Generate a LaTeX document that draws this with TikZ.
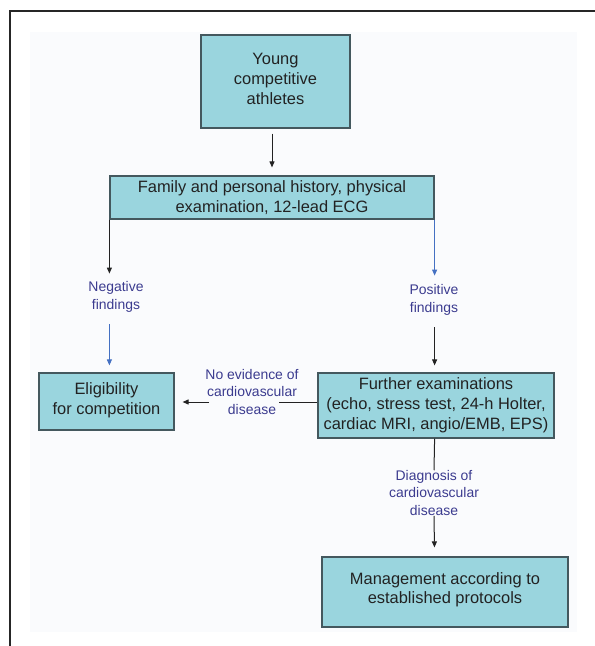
\documentclass[tikz,border=0pt]{standalone}
\usepackage{fontspec}
\setmainfont{Liberation Sans}
\usetikzlibrary{arrows.meta}
\definecolor{boxfill}{HTML}{9AD5DE}
\definecolor{boxline}{HTML}{44585E}
\definecolor{lbl}{HTML}{3B3B8F}
\definecolor{bluearr}{HTML}{4470C2}
\definecolor{panel}{HTML}{FAFBFD}
\definecolor{txt}{HTML}{222222}
\begin{document}
\begin{tikzpicture}[x=1bp,y=-1bp,
  box/.style={draw=boxline, line width=1.2bp, fill=boxfill, text=txt, align=center,
    font=\fontsize{16.5}{20}\selectfont, inner sep=0pt},
  lab/.style={text=lbl, align=center, font=\fontsize{14}{17.5}\selectfont, inner sep=0pt},
  conn/.style={draw=txt, line width=1bp},
  bconn/.style={draw=bluearr, line width=1bp},
  tip/.style={-{Triangle[length=6bp,width=5bp]}},
]
\useasboundingbox (0,0) rectangle (595,646);
\fill[panel] (30,32) rectangle (577,632);
\draw[line width=2bp, black!85] (10,646) -- (10,11) -- (595,11);

\node[box, minimum width=149bp, minimum height=93bp] (young) at (275.5,81.5)
  {Young\\competitive\\athletes\rule[-6bp]{0pt}{0pt}};
\node[box, minimum width=324bp, minimum height=43bp] (hist) at (272,197.5)
  {Family and personal history, physical\\examination, 12-lead ECG};
\node[box, minimum width=135bp, minimum height=57bp] (elig) at (106.5,401.5)
  {Eligibility\\for competition\rule[-6bp]{0pt}{0pt}};
\node[box, minimum width=236bp, minimum height=65bp] (further) at (436,405.5)
  {Further examinations\\(echo, stress test, 24-h Holter,\\cardiac MRI, angio/EMB, EPS)};
\node[box, minimum width=246bp, minimum height=70bp] (mgmt) at (445,592)
  {Management according to\\established protocols\rule[-8bp]{0pt}{0pt}};

\node[lab] (neg) at (116,297) {Negative\\findings};
\node[lab] (pos) at (434,300) {Positive\\findings};
\node[lab] (noev) at (252,392) {No evidence of\\cardiovascular\\disease};
\node[lab] (diag) at (434,493) {Diagnosis of\\cardiovascular\\disease};

\coordinate (gapR) at (279,402);
\coordinate (gapL) at (209,402);

% top arrow
\draw[conn, tip, shorten <=5bp, shorten >=8bp] (young.south -| hist.north) -- (hist.north);
% left branch
\draw[conn, tip, shorten >=8bp] (hist.south west) -- (hist.south west |- neg.north);
\draw[bconn, tip, shorten <=12bp, shorten >=7bp] (hist.south west |- neg.south) -- (hist.south west |- elig.north);
% right branch
\draw[bconn, tip, shorten >=9bp] (hist.south east) -- (hist.south east |- pos.north);
\draw[conn, tip, shorten <=12bp, shorten >=7bp] (hist.south east |- pos.south) -- (hist.south east |- further.north);
% horizontal
\draw[conn] (further.west |- gapR) -- (gapR);
\draw[conn, tip, shorten >=8bp] (gapL) -- (elig.east |- gapL);
% down
\draw[conn] (hist.south east |- further.south) -- (diag.north);
\draw[conn, tip, shorten >=9bp] (diag.south) -- (hist.south east |- mgmt.north);
\end{tikzpicture}
\end{document}
